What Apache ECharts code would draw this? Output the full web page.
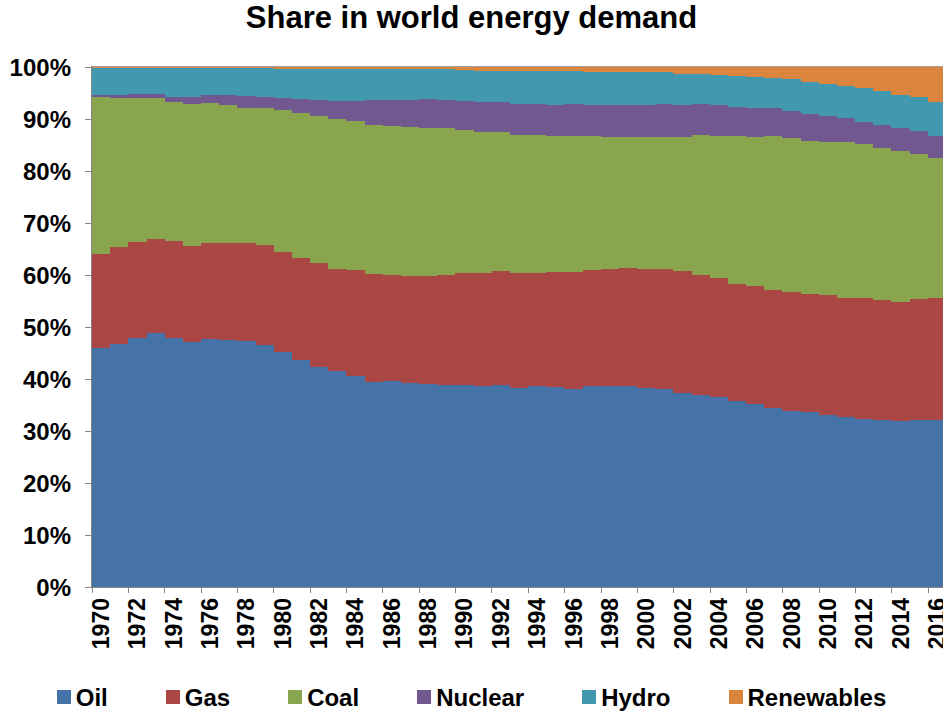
<!DOCTYPE html>
<html>
<head>
<meta charset="utf-8">
<title>Share in world energy demand</title>
<script src="https://cdn.jsdelivr.net/npm/echarts@6/dist/echarts.min.js"></script>
<style>
    html, body { margin: 0; padding: 0; background: #fff; }
    #chart { width: 943px; height: 714px; }
    /* no light seams between the touching bars */
    #chart svg path { shape-rendering: crispEdges; }
</style>
</head>
<body>
<div id="chart"></div>
<script>
    // years on the x axis
    var years = [];
    for (var y = 1970; y <= 2016; y++) years.push(String(y));

    // shares in %
    var oil = [46.0, 46.8, 47.8, 48.8, 47.8, 47.1, 47.6, 47.5, 47.4, 46.5,
               45.1, 43.7, 42.4, 41.5, 40.5, 39.5, 39.7, 39.2, 39.0, 38.8,
               38.8, 38.6, 38.8, 38.3, 38.6, 38.4, 38.0, 38.6, 38.6, 38.6,
               38.2, 38.0, 37.4, 37.0, 36.6, 35.8, 35.1, 34.5, 33.8, 33.6,
               33.1, 32.6, 32.4, 32.1, 32.0, 32.2, 32.2];
    var gas = [18.0, 18.5, 18.5, 18.2, 18.7, 18.5, 18.6, 18.6, 18.8, 19.2,
               19.4, 19.6, 19.9, 19.7, 20.4, 20.6, 20.3, 20.6, 20.8, 21.2,
               21.5, 21.8, 22.0, 22.0, 21.8, 22.1, 22.6, 22.3, 22.6, 22.7,
               23.0, 23.2, 23.4, 23.0, 22.8, 22.5, 22.7, 22.7, 22.9, 22.7,
               23.1, 22.9, 23.2, 23.0, 22.9, 23.2, 23.3];
    var coal = [30.2, 28.8, 27.8, 27.1, 26.8, 27.3, 26.8, 26.6, 26.0, 26.4,
                27.2, 27.9, 28.2, 28.8, 28.7, 28.8, 28.7, 28.7, 28.5, 28.2,
                27.6, 27.1, 26.7, 26.7, 26.6, 26.2, 26.1, 25.8, 25.3, 25.2,
                25.3, 25.3, 25.7, 26.9, 27.4, 28.4, 28.8, 29.5, 29.6, 29.5,
                29.4, 30.0, 29.5, 29.4, 29.0, 27.8, 27.0];
    var nuclear = [0.5, 0.5, 0.7, 0.8, 1.0, 1.4, 1.6, 2.0, 2.2, 2.2,
                   2.4, 2.7, 3.2, 3.4, 3.9, 4.7, 4.9, 5.1, 5.5, 5.4,
                   5.5, 5.7, 5.7, 5.9, 5.9, 6.0, 6.1, 5.9, 6.1, 6.1,
                   6.1, 6.3, 6.2, 5.9, 5.8, 5.7, 5.6, 5.4, 5.2, 5.2,
                   5.0, 4.6, 4.4, 4.3, 4.3, 4.4, 4.3];
    var hydro = [5.2, 5.3, 5.1, 5.0, 5.5, 5.5, 5.2, 5.1, 5.4, 5.5,
                 5.6, 5.8, 6.0, 6.3, 6.2, 6.1, 6.1, 6.1, 5.9, 5.95,
                 6.0, 6.1, 6.1, 6.3, 6.3, 6.5, 6.4, 6.5, 6.5, 6.4,
                 6.4, 6.2, 6.0, 5.9, 5.9, 5.9, 5.9, 5.8, 6.1, 6.2,
                 6.2, 6.2, 6.4, 6.5, 6.5, 6.6, 6.5];
    var renewables = [0.1, 0.1, 0.1, 0.1, 0.2, 0.2, 0.2, 0.2, 0.2, 0.2,
                      0.3, 0.3, 0.3, 0.3, 0.3, 0.3, 0.3, 0.3, 0.3, 0.45,
                      0.6, 0.7, 0.7, 0.8, 0.8, 0.8, 0.8, 0.9, 0.9, 1.0,
                      1.0, 1.0, 1.3, 1.3, 1.5, 1.7, 1.9, 2.1, 2.4, 2.8,
                      3.2, 3.7, 4.1, 4.7, 5.3, 5.8, 6.7];

    var names = ['Oil', 'Gas', 'Coal', 'Nuclear', 'Hydro', 'Renewables'];
    var colors = ['#4572A7', '#AA4643', '#89A54E', '#71588F', '#4198AF', '#DB843D'];
    var values = [oil, gas, coal, nuclear, hydro, renewables];

    var series = names.map(function (name, i) {
        return {
            name: name,
            type: 'bar',
            stack: 'total',
            barCategoryGap: '0%',
            itemStyle: { color: colors[i] },
            data: values[i]
        };
    });

    var font = 'Liberation Sans, Arial, sans-serif';
    var chart = echarts.init(document.getElementById('chart'), null, { renderer: 'svg' });
    chart.setOption({
        animation: false,
        color: colors,
        title: {
            text: 'Share in world energy demand',
            left: 'center',
            top: -3,
            textStyle: { fontFamily: font, fontSize: 31, fontWeight: 'bold', color: '#000' }
        },
        legend: {
            bottom: 0,
            left: 'center',
            itemWidth: 14,
            itemHeight: 14,
            itemGap: 58,
            icon: 'rect',
            textStyle: { fontFamily: font, fontSize: 24, fontWeight: 'bold', color: '#000' },
            data: names
        },
        // plot runs slightly past the right edge, as in the picture
        grid: {
            left: 92, width: 854, top: 67, bottom: 127,
            containLabel: false,
            outerBoundsMode: 'none'
        },
        xAxis: {
            type: 'category',
            data: years,
            axisLine: { lineStyle: { color: '#868686', width: 1 } },
            axisTick: { show: true, length: 6, lineStyle: { color: '#868686' } },
            splitLine: { show: false },
            axisLabel: {
                interval: 1,
                rotate: 90,
                margin: 11,
                fontFamily: font,
                fontSize: 23,
                fontWeight: 'bold',
                color: '#000'
            }
        },
        yAxis: {
            type: 'value',
            min: 0,
            max: 100,
            interval: 10,
            axisLine: { show: true, lineStyle: { color: '#868686', width: 2 } },
            axisTick: { show: true, length: 7, lineStyle: { color: '#868686' } },
            splitLine: { show: true, lineStyle: { color: '#a0a0a0', width: 2 } },
            axisLabel: {
                formatter: '{value}%',
                margin: 21,
                fontFamily: font,
                fontSize: 24,
                fontWeight: 'bold',
                color: '#000'
            }
        },
        series: series
    });
</script>
</body>
</html>
